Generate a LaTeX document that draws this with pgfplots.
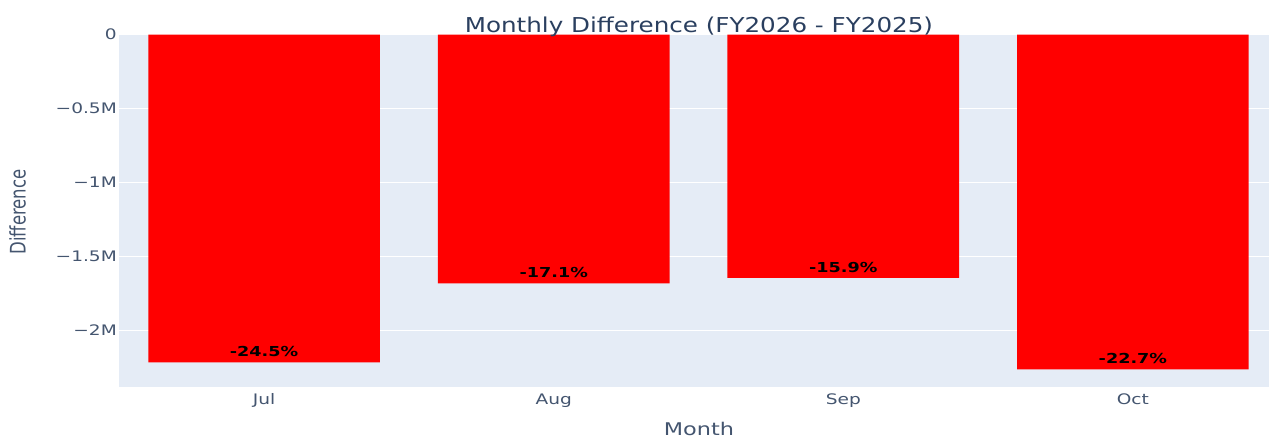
\documentclass[border=0pt]{standalone}
\usepackage{fontspec}
\usepackage{graphicx}
\usepackage{pgfplots}
\pgfplotsset{compat=1.18}
\usepackage{pgfplotstable}
\setmainfont{DejaVu Sans}
\newfontfamily\tickfont[FakeStretch=1.28]{DejaVu Sans}
\newfontfamily\titlefont[FakeStretch=1.2]{DejaVu Sans}
\newfontfamily\barfont[FakeStretch=1.28]{DejaVu Sans}
\definecolor{plotbg}{HTML}{E5ECF6}
\definecolor{titlecol}{HTML}{2A3F5F}
\definecolor{tickcol}{HTML}{44556F}

% values in millions, label = percent change
\pgfplotstableread{
idx value pct
0 -2.2165 -24.5
1 -1.683 -17.1
2 -1.6455 -15.9
3 -2.264 -22.7
}\diffdata

\begin{document}
\begin{tikzpicture}
\useasboundingbox (0,0) rectangle (1269pt,442pt);
\begin{axis}[
  at={(119.3pt,54.7pt)}, anchor=south west,
  scale only axis, width=1149.7pt, height=352.6pt,
  xmin=-0.5, xmax=3.47, ymin=-2.386, ymax=0,
  ybar, bar width=0.8,
  axis background/.style={fill=plotbg},
  axis line style={draw=none},
  major tick length=0pt,
  ymajorgrids, grid style={white, line width=1.2pt},
  ytick={-2,-1.5,-1,-0.5,0},
  yticklabels={−2M,−1.5M,−1M,−0.5M,0},
  xtick={0,1,2,3}, xticklabels={Jul,Aug,Sep,Oct},
  /pgf/number format/assume math mode=true,
  tick label style={font=\tickfont\fontsize{14.5}{16}\selectfont, text=tickcol, inner sep=0pt},
  yticklabel style={anchor=east, xshift=-2.3pt},
  xticklabel style={anchor=base, yshift=-16.7pt},
  title={Monthly Difference (FY2026 - FY2025)},
  every axis title/.style={at={(axis description cs:0.5042,1.0062)}, anchor=base,
    font=\titlefont\fontsize{20.5}{22}\selectfont, text=titlecol, inner sep=0pt},
  xlabel={Month},
  every axis x label/.style={at={(axis description cs:0.5041,-0.1381)}, anchor=base,
    font=\tickfont\fontsize{17.5}{19}\selectfont, text=tickcol, inner sep=0pt},
  ylabel={\scalebox{1.3}[1]{\rotatebox{90}{\fontsize{16.5}{18}\selectfont Difference}}},
  every axis y label/.style={at={(axis description cs:-0.0884,0.4972)}, anchor=center,
    text=tickcol, inner sep=0pt},
  point meta=explicit symbolic,
  nodes near coords={\pgfplotspointmeta\%},
  nodes near coords style={font=\barfont\bfseries\fontsize{13.75}{15}\selectfont,
    text=black, anchor=center, yshift=10.6pt},
]
\addplot[fill=red, draw=none] table[x=idx, y=value, meta=pct] {\diffdata};
\end{axis}
\end{tikzpicture}
\end{document}
